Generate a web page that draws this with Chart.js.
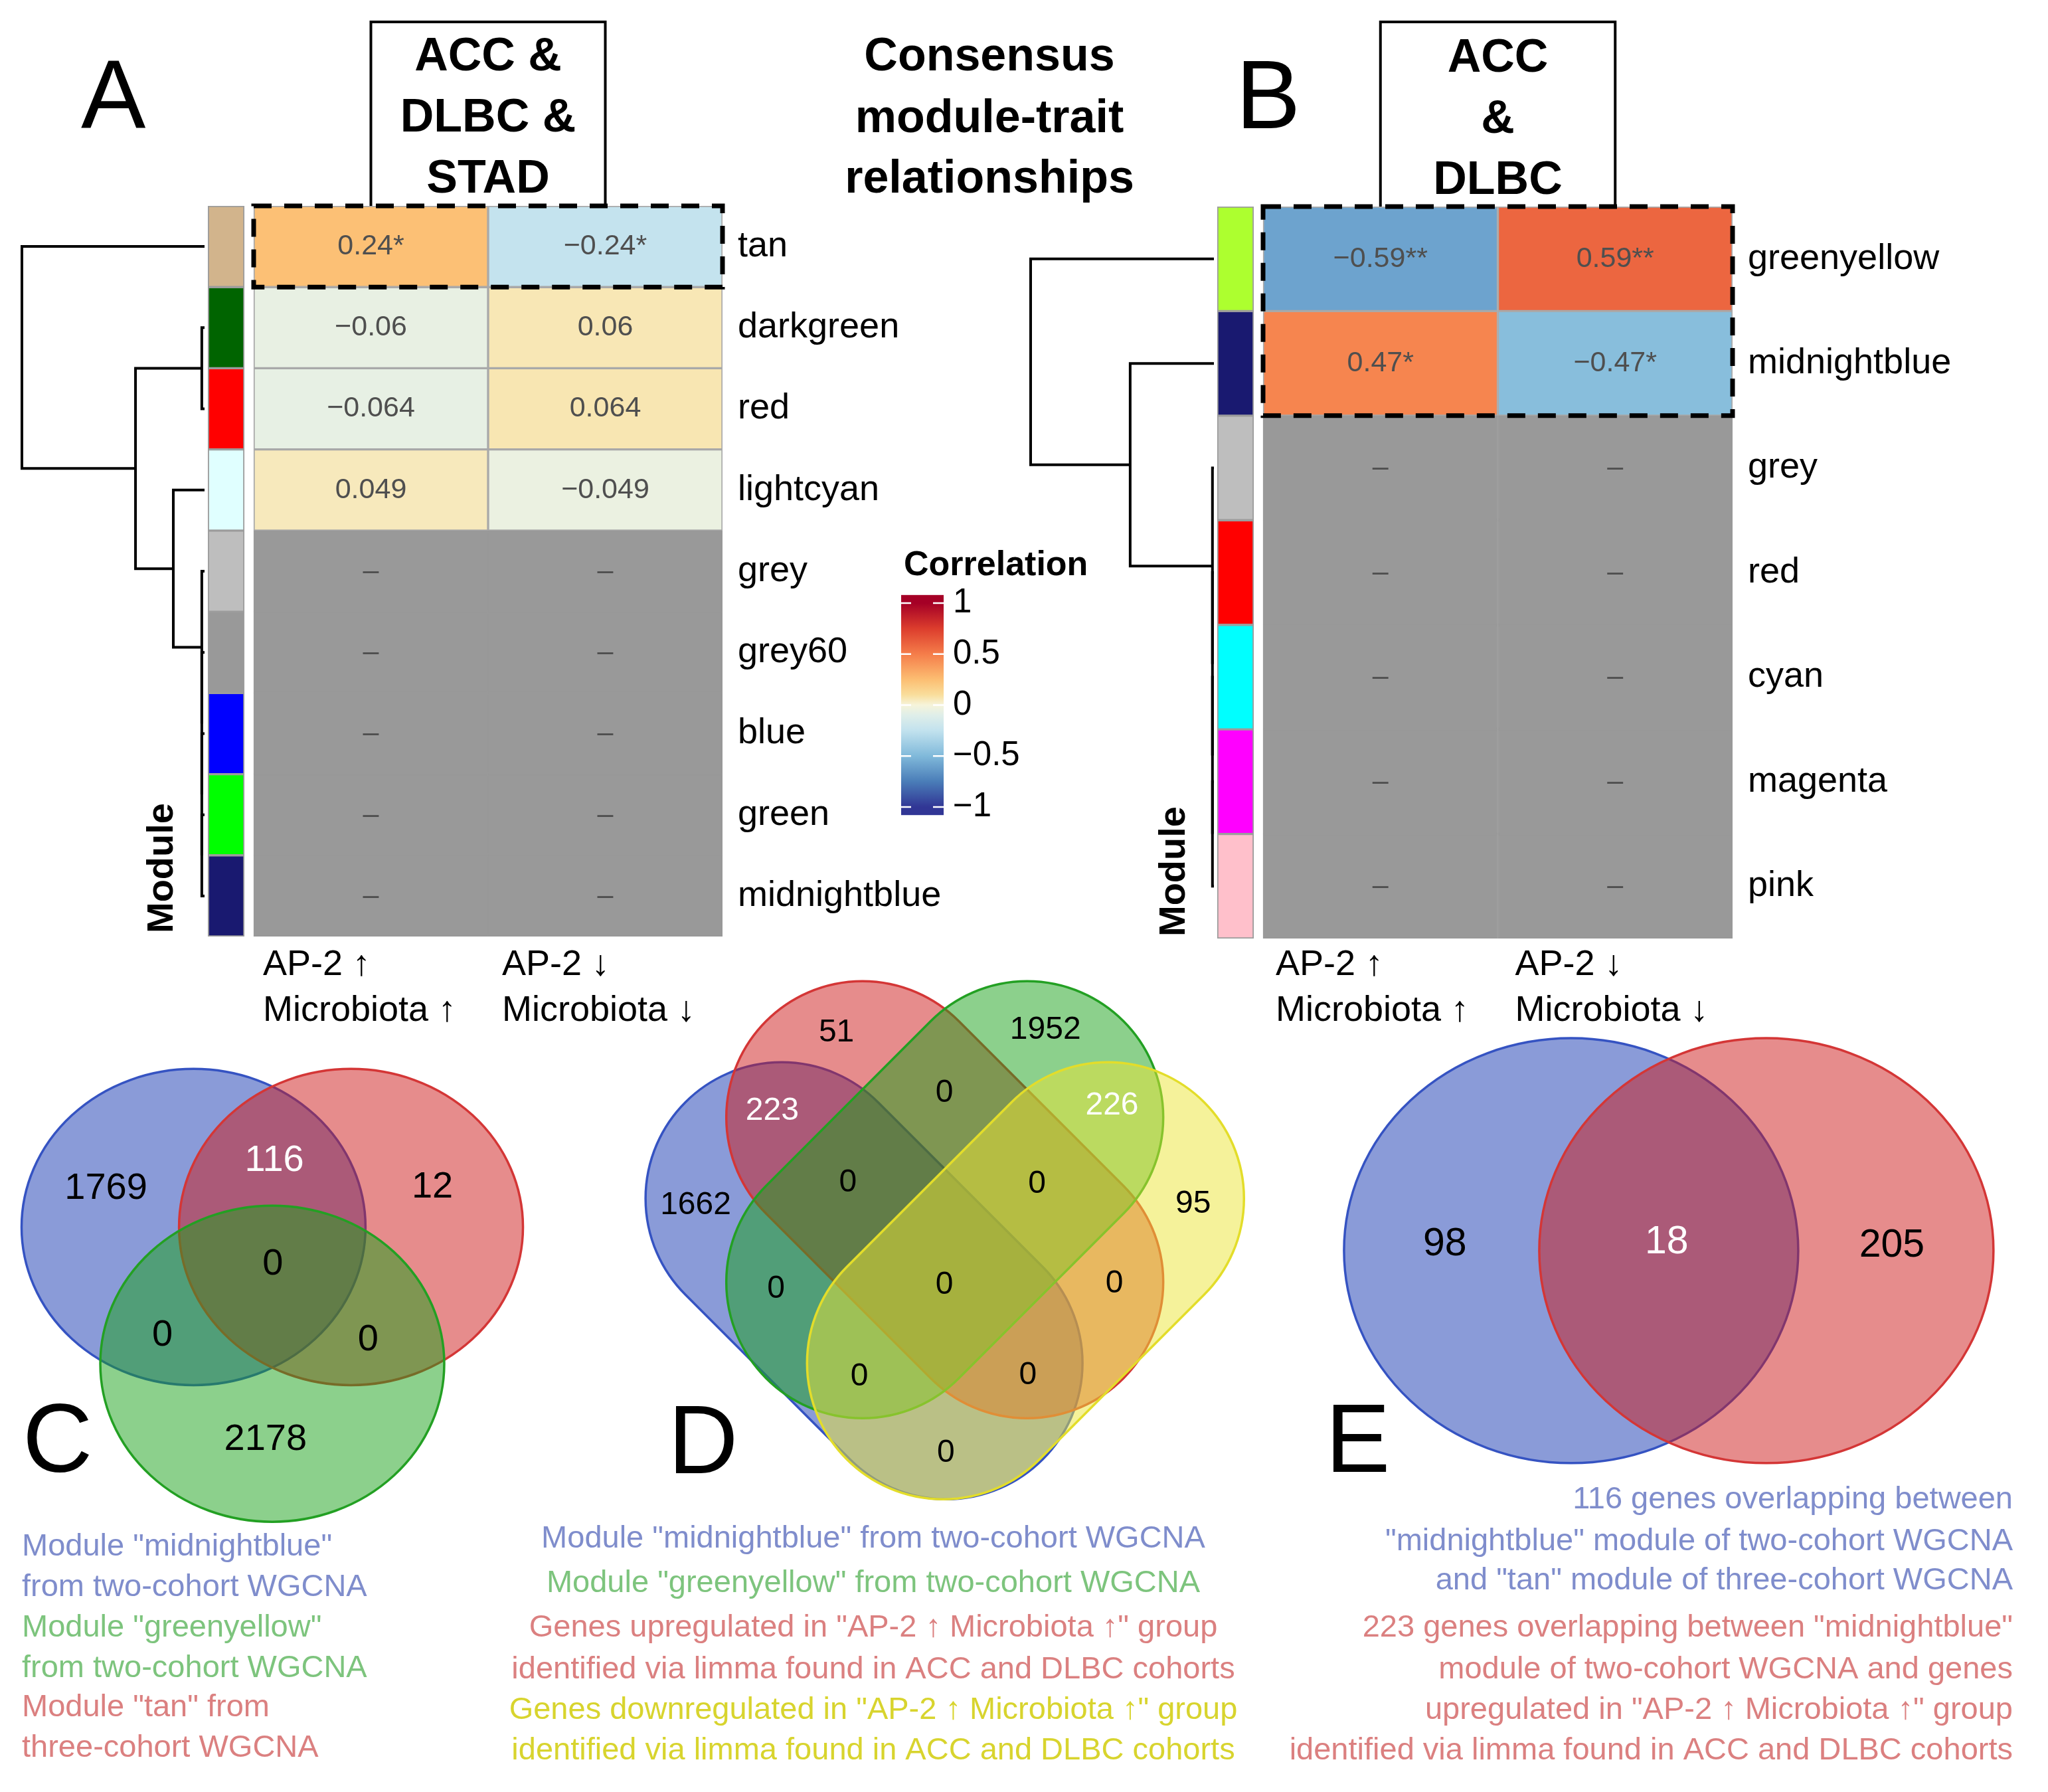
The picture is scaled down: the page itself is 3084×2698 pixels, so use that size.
<!DOCTYPE html>
<html>
<head>
<meta charset="utf-8">
<title>Consensus module-trait relationships</title>
<script src="https://cdn.jsdelivr.net/npm/chart.js@4.4.1/dist/chart.umd.min.js"></script>
<style>
  html, body { margin: 0; padding: 0; background: #fff; }
  body { width: 3084px; height: 2698px; position: relative; overflow: hidden; }
  canvas { position: absolute; }
</style>
</head>
<body>
<canvas id="heatA" width="1440" height="1600" style="left:0px;top:0px"></canvas>
<canvas id="dendA" width="300" height="1100" style="left:20px;top:310px"></canvas>
<canvas id="heatB" width="1544" height="1600" style="left:1540px;top:0px"></canvas>
<canvas id="dendB" width="310" height="1102" style="left:1530px;top:311px"></canvas>
<canvas id="legend" width="520" height="1300" style="left:1240px;top:0px"></canvas>
<canvas id="vennC" width="900" height="1138" style="left:0px;top:1560px"></canvas>
<canvas id="vennD" width="1200" height="1258" style="left:740px;top:1440px"></canvas>
<canvas id="vennE" width="1164" height="1158" style="left:1920px;top:1540px"></canvas>
<script>
// ========== DATA ==========
const modulesA = ["tan", "darkgreen", "red", "lightcyan", "grey", "grey60", "blue", "green", "midnightblue"];
const moduleColorsA = ["#D2B48C", "#006400", "#FF0000", "#E0FFFF", "#BEBEBE", "#999999", "#0000FF", "#00FF00", "#191970"];
const corrA_up = [0.24, -0.06, -0.064, 0.049, null, null, null, null, null];
const corrA_down = [-0.24, 0.06, 0.064, -0.049, null, null, null, null, null];
const starsA = ["*", "", "", "", "", "", "", "", ""];

const modulesB = ["greenyellow", "midnightblue", "grey", "red", "cyan", "magenta", "pink"];
const moduleColorsB = ["#ADFF2F", "#191970", "#BEBEBE", "#FF0000", "#00FFFF", "#FF00FF", "#FFC0CB"];
const corrB_up = [-0.59, 0.47, null, null, null, null, null];
const corrB_down = [0.59, -0.47, null, null, null, null, null];
const starsB = ["**", "*", "", "", "", "", ""];

const traitLabels = [["AP-2 ↑", "Microbiota ↑"], ["AP-2 ↓", "Microbiota ↓"]];
const cohortsA = ["ACC &", "DLBC &", "STAD"];
const cohortsB = ["ACC", "&", "DLBC"];

// dendrograms: [child, child, height]; numbers are rows, "mK" is merge K
const mergeA = [[7, 8, 0.015], [6, "m0", 0.015], [5, "m1", 0.015], [4, "m2", 0.015],
                [1, 2, 0.015], [3, "m3", 0.171], ["m4", "m5", 0.378], [0, "m6", 1.0]];
const mergeB = [[5, 6, 0.008], [4, "m0", 0.008], [3, "m1", 0.008], [2, "m2", 0.008],
                [1, "m3", 0.457], [0, "m4", 1.0]];

const corrTicks = [-1, -0.5, 0, 0.5, 1];
const corrStops = [-1, -0.75, -0.5, -0.25, -0.1, 0, 0.1, 0.25, 0.5, 0.75, 1];
const corrColors = ["#313695", "#4A7DB8", "#80B9DA", "#C2E2EE", "#DFEEE9", "#F6F4DA",
                    "#F9DE9C", "#FCBE72", "#F57D4A", "#DC3D2D", "#A50026"];

// venn counts
const vennC_regions = ["midnightblue", "midnightblue+tan", "tan", "midnightblue+greenyellow", "all", "tan+greenyellow", "greenyellow"];
const vennC_counts = [1769, 116, 12, 0, 0, 0, 2178];
const vennD_regions = ["up", "greenyellow", "midnightblue+up", "up+greenyellow", "greenyellow+down", "midnightblue",
                       "mb+up+gy", "up+gy+down", "down", "mb+gy", "all", "up+down", "mb+gy+down", "mb+up+down", "mb+down"];
const vennD_counts = [51, 1952, 223, 0, 226, 1662, 0, 0, 95, 0, 0, 0, 0, 0, 0];
const vennE_regions = ["tan overlap only", "both", "limma overlap only"];
const vennE_counts = [98, 18, 205];

// ========== HELPERS ==========
const FONT = "'Liberation Sans', Arial, Helvetica, sans-serif";
Chart.defaults.font.family = FONT;
Chart.defaults.color = "#000";

function hexRgb(h) {
  return [1, 3, 5].map((i) => parseInt(h.slice(i, i + 2), 16));
}

function corrColor(v) {
  if (v == null) return "#999999";
  let i = 0;
  while (i < corrStops.length - 2 && v > corrStops[i + 1]) i++;
  const t = (v - corrStops[i]) / (corrStops[i + 1] - corrStops[i]);
  const a = hexRgb(corrColors[i]), b = hexRgb(corrColors[i + 1]);
  const c = a.map((x, k) => Math.round(x + (b[k] - x) * t));
  return "rgb(" + c.join(",") + ")";
}

function fmtCorr(v) {
  return (v < 0 ? "−" : "") + Math.abs(v);
}

// ========== HEATMAPS ==========
function makeHeatmap(id, o) {
  const canvas = document.getElementById(id);
  const unit = (o.cellRight - o.cellLeft) / 2;
  const n = o.modules.length;
  const spans = (a, b) => o.modules.map(() => [a, b]);
  const edge = (vals) => vals.map((v) => (v == null ? "#999999" : "#A9A9A9"));
  const bar = { borderSkipped: false, grouped: false, barPercentage: 1, categoryPercentage: 1, borderWidth: 2 };

  const decor = {
    id: "heatDecor",
    afterDraw(chart) {
      const { ctx, chartArea: area, scales: { x } } = chart;
      const band = area.height / n;
      ctx.save();
      // numbers in the cells
      ctx.font = "43px " + FONT;
      ctx.fillStyle = "#4F4F4F";
      ctx.textAlign = "center";
      ctx.textBaseline = "middle";
      [o.up, o.down].forEach((vals, c) => {
        chart.getDatasetMeta(c + 1).data.forEach((el, i) => {
          const v = vals[i];
          ctx.fillText(v == null ? "–" : fmtCorr(v) + o.stars[i], (el.x + el.base) / 2, el.y);
        });
      });
      // cohort box
      const bx0 = x.getPixelForValue(0.5), bx1 = x.getPixelForValue(1.5);
      ctx.strokeStyle = "#000";
      ctx.lineWidth = 4;
      ctx.beginPath();
      ctx.moveTo(bx0, area.top);
      ctx.lineTo(bx0, o.boxTop);
      ctx.lineTo(bx1, o.boxTop);
      ctx.lineTo(bx1, area.top);
      ctx.stroke();
      ctx.fillStyle = "#000";
      ctx.font = "bold 70px " + FONT;
      ctx.textBaseline = "alphabetic";
      o.cohorts.forEach((t, k) => ctx.fillText(t, x.getPixelForValue(1), o.titleY[k]));
      // dashed frame round the significant rows
      const sig = o.stars.map((s, i) => (s ? i : null)).filter((i) => i !== null);
      if (sig.length) {
        const y0 = area.top + band * Math.min(...sig);
        const y1 = area.top + band * (Math.max(...sig) + 1);
        ctx.setLineDash([27, 19]);
        ctx.lineWidth = 7;
        ctx.strokeRect(x.getPixelForValue(0), y0, x.getPixelForValue(2) - x.getPixelForValue(0), y1 - y0);
        ctx.setLineDash([]);
      }
      // trait names under the columns
      ctx.font = "54px " + FONT;
      ctx.textAlign = "left";
      traitLabels.forEach((lines, c) =>
        lines.forEach((t, k) => ctx.fillText(t, x.getPixelForValue(c) + o.traitPad[c], o.traitY[k]))
      );
      // panel letter
      ctx.font = "146px " + FONT;
      ctx.fillText(o.letter, o.letterX - o.offX, o.letterY);
      // "Module" axis title
      ctx.translate(o.moduleX - o.offX, o.moduleBottom);
      ctx.rotate(-Math.PI / 2);
      ctx.font = "bold 56px " + FONT;
      ctx.textBaseline = "middle";
      ctx.fillText("Module", 0, 0);
      ctx.restore();
    },
  };

  new Chart(canvas, {
    type: "bar",
    data: {
      labels: o.modules,
      datasets: [
        { ...bar, data: spans(-0.195, -0.04), backgroundColor: o.colors, borderColor: "#9C9C9C" },
        { ...bar, data: spans(0, 1), backgroundColor: o.up.map(corrColor), borderColor: edge(o.up) },
        { ...bar, data: spans(1, 2), backgroundColor: o.down.map(corrColor), borderColor: edge(o.down) },
      ],
    },
    options: {
      indexAxis: "y",
      responsive: false,
      animation: false,
      devicePixelRatio: 1,
      layout: { padding: { left: o.cellLeft - 0.2 * unit - o.offX, top: o.top, bottom: canvas.height - o.bottom, right: 0 } },
      scales: {
        x: { type: "linear", min: -0.2, max: 2, display: false },
        y: {
          type: "category",
          position: "right",
          offset: true,
          grid: { display: false, drawTicks: false },
          border: { display: false },
          ticks: { padding: 23, color: "#000", font: { size: 54 }, autoSkip: false },
          afterFit(s) { s.width = canvas.width - (o.cellRight - o.offX); },
        },
      },
      plugins: { legend: { display: false }, tooltip: { enabled: false } },
    },
    plugins: [decor],
  });
}

makeHeatmap("heatA", {
  modules: modulesA, colors: moduleColorsA, up: corrA_up, down: corrA_down, stars: starsA, cohorts: cohortsA,
  offX: 0, cellLeft: 382, cellRight: 1088, top: 310, bottom: 1410, boxTop: 33, titleY: [106, 198, 290],
  traitPad: [14, 21], traitY: [1468, 1537], letter: "A", letterX: 122, letterY: 193, moduleX: 245, moduleBottom: 1405,
});
makeHeatmap("heatB", {
  modules: modulesB, colors: moduleColorsB, up: corrB_up, down: corrB_down, stars: starsB, cohorts: cohortsB,
  offX: 1540, cellLeft: 1902, cellRight: 2609, top: 311, bottom: 1413, boxTop: 33, titleY: [108, 200, 292],
  traitPad: [19, 26], traitY: [1468, 1537], letter: "B", letterX: 1861, letterY: 193, moduleX: 1769, moduleBottom: 1410,
});

// ========== DENDROGRAMS ==========
function makeDendrogram(id, merges, nLeaves, o) {
  const canvas = document.getElementById(id);
  const ppu = o.leafX - o.rootX;
  const max = (o.leafX - o.left) / ppu;
  const min = max - canvas.width / ppu;
  const nodes = {};
  const at = (r) => (typeof r === "number" ? { y: r, h: 0 } : nodes[r]);
  const datasets = merges.map(([a, b, h], i) => {
    const p = at(a), q = at(b);
    nodes["m" + i] = { y: (p.y + q.y) / 2, h: h };
    return {
      data: [{ x: p.h, y: p.y }, { x: h, y: p.y }, { x: h, y: q.y }, { x: q.h, y: q.y }],
      showLine: true, borderColor: "#000", borderWidth: 4, pointRadius: 0, tension: 0, clip: false,
    };
  });
  new Chart(canvas, {
    type: "scatter",
    data: { datasets },
    options: {
      responsive: false, animation: false, devicePixelRatio: 1,
      scales: {
        x: { type: "linear", reverse: true, min, max, display: false },
        y: { type: "linear", reverse: true, min: -0.5, max: nLeaves - 0.5, display: false },
      },
      plugins: { legend: { display: false }, tooltip: { enabled: false } },
    },
  });
}

makeDendrogram("dendA", mergeA, modulesA.length, { left: 20, leafX: 308, rootX: 33 });
makeDendrogram("dendB", mergeB, modulesB.length, { left: 1530, leafX: 1828, rootX: 1552 });

// ========== COLOUR KEY ==========
const LEGEND_X = 1240;
const legendSpan = [-1.08, 1.08];
const legendDecor = {
  id: "legendDecor",
  afterDraw(chart) {
    const { ctx, chartArea: area, scales: { y } } = chart;
    ctx.save();
    ctx.strokeStyle = "#fff";
    ctx.lineWidth = 2.5;
    corrTicks.forEach((v) => {
      const py = y.getPixelForValue(v);
      ctx.beginPath();
      ctx.moveTo(area.left, py);
      ctx.lineTo(area.left + 15, py);
      ctx.moveTo(area.right - 16, py);
      ctx.lineTo(area.right, py);
      ctx.stroke();
    });
    ctx.translate(-LEGEND_X, 0);
    ctx.fillStyle = "#000";
    ctx.textAlign = "left";
    ctx.font = "bold 52px " + FONT;
    ctx.fillText("Correlation", 1361, 866);
    ctx.textAlign = "center";
    ctx.font = "bold 70px " + FONT;
    ["Consensus", "module-trait", "relationships"].forEach((t, k) => ctx.fillText(t, 1490, [106, 199, 290][k]));
    ctx.restore();
  },
};

new Chart(document.getElementById("legend"), {
  type: "bar",
  data: {
    labels: ["Correlation"],
    datasets: [{
      data: [legendSpan],
      borderWidth: 0,
      barPercentage: 1,
      categoryPercentage: 1,
      backgroundColor(c) {
        const { chart } = c;
        if (!chart.chartArea) return corrColors[5];
        const y = chart.scales.y;
        const g = chart.ctx.createLinearGradient(0, y.getPixelForValue(-1), 0, y.getPixelForValue(1));
        corrStops.forEach((v, i) => g.addColorStop((v + 1) / 2, corrColors[i]));
        return g;
      },
    }],
  },
  options: {
    responsive: false, animation: false, devicePixelRatio: 1,
    layout: { padding: { left: 117, top: 895.7, bottom: 72.7, right: 0 } },
    scales: {
      x: { display: false },
      y: {
        position: "right",
        min: legendSpan[0],
        max: legendSpan[1],
        grid: { display: false, drawTicks: false },
        border: { display: false },
        afterFit(s) { s.width = 339; },
        afterBuildTicks(s) { s.ticks = corrTicks.map((v) => ({ value: v })); },
        ticks: { padding: 14, color: "#000", font: { size: 51 }, callback: (v) => fmtCorr(v) },
      },
    },
    plugins: { legend: { display: false }, tooltip: { enabled: false } },
  },
  plugins: [legendDecor],
});

// ========== VENN DIAGRAMS ==========
const setFill = {
  blue: "rgba(21,55,177,0.5)", red: "rgba(205,25,25,0.5)",
  green: "rgba(25,161,25,0.5)", yellow: "rgba(235,229,53,0.5)",
};
const setLine = { blue: "#3553C2", red: "#D43636", green: "#23A023", yellow: "#E3DD2A" };
const textCol = { blue: "#7F8DCC", green: "#7DC47D", red: "#DB8080", yellow: "#D8D42E" };

// outline of one set: ellipse, or a long rounded band for the four-set diagram
function tracePath(ctx, px, py, a, b, rot, band) {
  ctx.beginPath();
  if (!band) {
    ctx.ellipse(px, py, a, b, rot, 0, Math.PI * 2);
    return;
  }
  const s = a - b;
  ctx.save();
  ctx.translate(px, py);
  ctx.rotate(rot);
  ctx.moveTo(-s, -b);
  ctx.lineTo(s, -b);
  ctx.arc(s, 0, b, -Math.PI / 2, Math.PI / 2);
  ctx.lineTo(-s, b);
  ctx.arc(-s, 0, b, Math.PI / 2, Math.PI * 1.5);
  ctx.closePath();
  ctx.restore();
}

function makeVenn(id, o) {
  const canvas = document.getElementById(id);
  const decor = {
    id: "vennDecor",
    beforeDatasetsDraw(chart) {
      const { ctx, scales: { x, y } } = chart;
      const ux = x.getPixelForValue(1) - x.getPixelForValue(0);
      const uy = y.getPixelForValue(0) - y.getPixelForValue(1);
      ctx.save();
      o.shapes.forEach((s) => {
        tracePath(ctx, x.getPixelForValue(s.cx), y.getPixelForValue(s.cy), s.a * ux, s.b * uy,
          -(s.rot || 0) * Math.PI / 180, o.band);
        ctx.fillStyle = setFill[s.set];
        ctx.fill();
        ctx.lineWidth = 3.5;
        ctx.strokeStyle = setLine[s.set];
        ctx.stroke();
      });
      ctx.restore();
    },
    afterDatasetsDraw(chart) {
      const { ctx } = chart;
      ctx.save();
      ctx.font = o.countSize + "px " + FONT;
      ctx.textAlign = "center";
      ctx.textBaseline = "middle";
      chart.getDatasetMeta(0).data.forEach((pt, i) => {
        ctx.fillStyle = o.light[i] ? "#fff" : "#000";
        ctx.fillText(String(o.counts[i]), pt.x, pt.y);
      });
      ctx.translate(-o.offX, -o.offY);
      ctx.font = "47px " + FONT;
      ctx.textAlign = o.captionAlign;
      o.captions.forEach(([t, col], k) => {
        ctx.fillStyle = textCol[col];
        ctx.fillText(t, o.captionX, o.captionY[k]);
      });
      ctx.fillStyle = "#000";
      ctx.textAlign = "left";
      ctx.textBaseline = "alphabetic";
      ctx.font = "146px " + FONT;
      ctx.fillText(o.letter, o.letterX, o.letterY);
      ctx.restore();
    },
  };
  new Chart(canvas, {
    type: "scatter",
    data: { datasets: [{ data: o.pos.map(([px, py]) => ({ x: px, y: py })), pointRadius: 0 }] },
    options: {
      responsive: false, animation: false, devicePixelRatio: 1,
      layout: { padding: o.padding },
      scales: {
        x: { type: "linear", min: 0, max: o.xMax, display: false },
        y: { type: "linear", min: 0, max: o.yMax, display: false },
      },
      plugins: { legend: { display: false }, tooltip: { enabled: false } },
    },
    plugins: [decor],
  });
}

makeVenn("vennC", {
  offX: 0, offY: 1560, padding: { left: 20, right: 100, top: 30, bottom: 391 }, xMax: 1, yMax: 1,
  shapes: [
    { set: "blue", cx: 0.348, cy: 0.641, a: 0.332, b: 0.332 },
    { set: "red", cx: 0.652, cy: 0.641, a: 0.332, b: 0.332 },
    { set: "green", cx: 0.5, cy: 0.354, a: 0.332, b: 0.332 },
  ],
  counts: vennC_counts, countSize: 56, light: [0, 1, 0, 0, 0, 0, 0],
  pos: [[0.179, 0.721], [0.504, 0.78], [0.809, 0.725], [0.288, 0.413], [0.501, 0.562], [0.685, 0.403], [0.487, 0.194]],
  captions: [
    ['Module "midnightblue"', "blue"], ["from two-cohort WGCNA", "blue"],
    ['Module "greenyellow"', "green"], ["from two-cohort WGCNA", "green"],
    ['Module "tan" from', "red"], ["three-cohort WGCNA", "red"],
  ],
  captionAlign: "left", captionX: 33, captionY: [2329, 2390, 2451, 2512, 2571, 2632],
  letter: "C", letterX: 34, letterY: 2216,
});

makeVenn("vennD", {
  offX: 740, offY: 1440, padding: { left: 190, right: 20, top: 0, bottom: 408 }, xMax: 0.859, yMax: 0.738,
  band: true,
  shapes: [
    { set: "blue", cx: 0.322, cy: 0.314, a: 0.33, b: 0.178, rot: -45 },
    { set: "red", cx: 0.4275, cy: 0.42, a: 0.33, b: 0.178, rot: -45 },
    { set: "green", cx: 0.4275, cy: 0.42, a: 0.33, b: 0.178, rot: 45 },
    { set: "yellow", cx: 0.533, cy: 0.314, a: 0.33, b: 0.178, rot: 45 },
  ],
  counts: vennD_counts, countSize: 48, light: [0, 0, 1, 0, 1, 0, 0, 0, 0, 0, 0, 0, 0, 0, 0],
  pos: [[0.286, 0.638], [0.559, 0.642], [0.202, 0.536], [0.427, 0.559], [0.646, 0.543], [0.102, 0.413],
        [0.301, 0.442], [0.548, 0.44], [0.752, 0.414], [0.207, 0.303], [0.427, 0.308], [0.649, 0.31],
        [0.316, 0.189], [0.536, 0.19], [0.429, 0.089]],
  captions: [
    ['Module "midnightblue" from two-cohort WGCNA', "blue"],
    ['Module "greenyellow" from two-cohort WGCNA', "green"],
    ['Genes upregulated in "AP-2 ↑ Microbiota ↑" group', "red"],
    ["identified via limma found in ACC and DLBC cohorts", "red"],
    ['Genes downregulated in "AP-2 ↑ Microbiota ↑" group', "yellow"],
    ["identified via limma found in ACC and DLBC cohorts", "yellow"],
  ],
  captionAlign: "center", captionX: 1315, captionY: [2317, 2384, 2451, 2514, 2575, 2636],
  letter: "D", letterX: 1006, letterY: 2218,
});

makeVenn("vennE", {
  offX: 1920, offY: 1540, padding: { left: 70, right: 44, top: 10, bottom: 166 }, xMax: 1, yMax: 1,
  shapes: [
    { set: "blue", cx: 0.358, cy: 0.661, a: 0.3257, b: 0.3257 },
    { set: "red", cx: 0.638, cy: 0.661, a: 0.3257, b: 0.3257 },
  ],
  counts: vennE_counts, countSize: 59, light: [0, 1, 0],
  pos: [[0.177, 0.67], [0.495, 0.673], [0.818, 0.668]],
  captions: [
    ["116 genes overlapping between", "blue"],
    ['"midnightblue" module of two-cohort WGCNA', "blue"],
    ['and "tan" module of three-cohort WGCNA', "blue"],
    ['223 genes overlapping between "midnightblue"', "red"],
    ["module of two-cohort WGCNA and genes", "red"],
    ['upregulated in "AP-2 ↑ Microbiota ↑" group', "red"],
    ["identified via limma found in ACC and DLBC cohorts", "red"],
  ],
  captionAlign: "right", captionX: 3031, captionY: [2258, 2321, 2380, 2451, 2514, 2575, 2636],
  letter: "E", letterX: 1996, letterY: 2216,
});
</script>
</body>
</html>
